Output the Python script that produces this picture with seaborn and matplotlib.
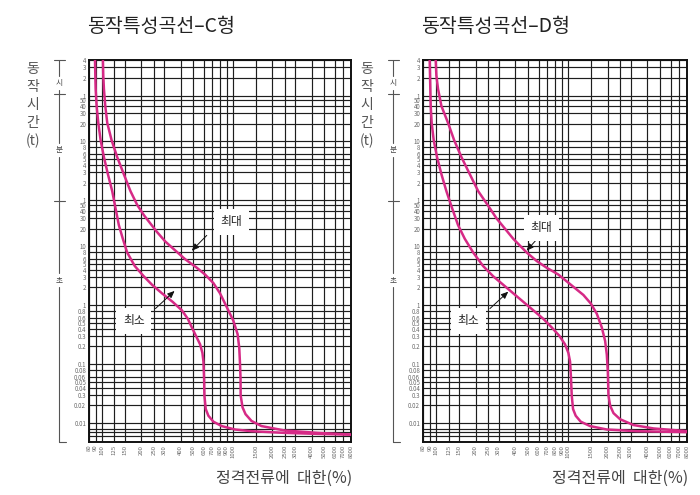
import matplotlib
matplotlib.use("Agg")
import matplotlib.pyplot as plt
import seaborn as sns
import pandas as pd
from matplotlib.lines import Line2D

# ---------------- data ----------------
x_ticks = [80, 90, 100, 125, 150, 200, 250, 300, 400, 500, 600, 700, 800, 900,
           1000, 1500, 2000, 2500, 3000, 4000, 5000, 6000, 7000, 8000]
x_labels = [str(v) for v in x_ticks]

# operating time axis in seconds (hours / minutes / seconds)
y_ticks = [14400, 10800, 7200, 3600,
           3000, 2400, 1800, 1200, 600, 480, 360, 300, 240, 180, 120, 60,
           50, 40, 30, 20, 10, 8, 6, 5, 4, 3, 2, 1,
           0.8, 0.6, 0.5, 0.4, 0.3, 0.2, 0.1, 0.08, 0.06, 0.05, 0.04, 0.03, 0.02, 0.01,
           0.008, 0.007, 0.006]
y_labels = ["4", "3", "2", "1",
            "50", "40", "30", "20", "10", "8", "6", "5", "4", "3", "2", "1",
            "50", "40", "30", "20", "10", "8", "6", "5", "4", "3", "2", "1",
            "0.8", "0.6", "0.5", "0.4", "0.3", "0.2", "0.1", "0.08", "0.06", "0.05", "0.04", "0.3", "0.02", "0.01",
            "", "", ""]

c_min_x = [88.9, 89.4, 89.9, 91.5, 94.2, 98.1, 104, 111.5, 120.3, 127.5, 135.2, 145, 156.4, 178.9,
           209.4, 242.2, 288.4, 347.5, 409.2, 454.5, 487.4, 531.9, 563.8, 587.3, 597.7, 604.7,
           608.3, 622.6, 652.4, 712, 823.5, 1040, 1392, 2493, 4466, 8000]
c_min_y = [14400, 7910, 4647, 2391, 1230, 633, 325, 167.4, 86.1, 44.3, 22.8, 13.4, 7.87, 4.62,
           3.10, 2.225, 1.595, 1.144, 0.821, 0.5886, 0.422, 0.2834, 0.2172, 0.1558, 0.1117, 0.0575,
           0.0296, 0.01738, 0.01338, 0.01062, 0.00894, 0.00782, 0.00732, 0.00685, 0.00658, 0.00641]

c_max_x = [102.2, 102.8, 104, 106.5, 110.3, 118.9, 131.3, 147.5, 165.8, 186.3, 209.4, 235.2, 264.3,
           305.8, 353.8, 433.8, 531.9, 615.4, 712, 800, 898.8, 1010, 1090, 1122, 1135, 1148, 1150,
           1189, 1253, 1392, 1658, 2493, 4466, 8000]
c_max_y = [14400, 7910, 4647, 2391, 1230, 633, 325, 167, 86.1, 50.6, 33.96, 24.36, 17.47,
           12.04, 8.99, 6.03, 4.325, 3.316, 2.378, 1.595, 0.938, 0.551, 0.3237, 0.1902, 0.1117, 0.0575, 0.0296,
           0.01857, 0.01423, 0.01091, 0.00894, 0.00752, 0.00685, 0.00641]

d_min_x = [89.9, 90.4, 90.9, 91.5, 93.1, 96.4, 102.2, 110.3, 120.3, 132.9, 147.5, 165.8, 191.8, 228.4,
           272.1, 324.1, 386.0, 459.8, 547.6, 652.4, 754.7, 863.0, 952.8, 1010, 1040, 1058, 1071,
           1096, 1148, 1253, 1475, 1975, 3337, 8000]
d_min_y = [14400, 7910, 4647, 2391, 1230, 633, 325, 167, 86.1, 44.3, 22.8, 13.4, 7.87, 4.62,
           3.10, 2.225, 1.595, 1.144, 0.821, 0.5886, 0.422, 0.303, 0.2172, 0.1558, 0.1117, 0.0575, 0.0296,
           0.01738, 0.01338, 0.01062, 0.00894, 0.00782, 0.00732, 0.00705]

d_max_x = [99.8, 101, 104, 110.3, 123.9, 137.6, 156.4, 180.9, 209.4, 246.5, 288.5, 333.7, 386, 487.4,
           580.4, 691.5, 847.9, 981, 1135, 1313, 1493, 1658, 1809, 1918, 1975, 2010, 2033, 2093,
           2219, 2493, 3148, 4466, 8000]
d_max_y = [14400, 7910, 4647, 2391, 1230, 633, 325, 167, 86.1, 50.6, 29.7, 19.95, 13.4, 7.87,
           5.643, 4.325, 3.316, 2.542, 1.948, 1.493, 1.071, 0.7188, 0.422, 0.248, 0.1458, 0.075, 0.0296, 0.01985,
           0.01482, 0.01166, 0.0093, 0.00815, 0.00732]

titles = ["동작특성곡선–C형", "동작특성곡선–D형"]
y_title_chars = ["동", "작", "시", "간", "(t)"]
x_title = "정격전류에  대한(%)"

# label / arrow anchors (data coords): (label x, label y, arrow start x, y, arrow end x, y)
c_max_note = (981, 26.0, 634, 15.3, 487, 8.4)
c_min_note = (176, 0.551, 257, 0.877, 360, 1.75)
d_max_note = (634, 20.5, 587, 13.4, 487, 8.4)
d_min_note = (176, 0.551, 257, 0.877, 354, 1.70)

# ---------------- style ----------------
sns.set_theme(style="white")
plt.rcParams["font.family"] = ["Noto Sans CJK KR", "DejaVu Sans"]

W, H = 700, 495
fig = plt.figure(figsize=(W / 100, H / 100), dpi=100)

def fxp(x):
    return x / W

def fyp(y):
    return 1 - y / H

CURVE = "#d62a86"
GRID = "#1e1e1e"
LABEL_GRAY = "#6a6a6a"

panels = [
    dict(left=89, right=351, title=titles[0], mn=(c_min_x, c_min_y), mx=(c_max_x, c_max_y),
         notes=(c_max_note, c_min_note)),
    dict(left=423, right=687, title=titles[1], mn=(d_min_x, d_min_y), mx=(d_max_x, d_max_y),
         notes=(d_max_note, d_min_note)),
]

top_px, bot_px = 60, 442

for p in panels:
    ax = fig.add_axes([fxp(p["left"]), fyp(bot_px), (p["right"] - p["left"]) / W, (bot_px - top_px) / H])
    ax.set_xscale("log")
    ax.set_yscale("log")
    ax.set_xlim(80, 8000)
    ax.set_ylim(0.0048, 14400)
    ax.set_xticks(x_ticks)
    ax.set_xticklabels(x_labels, rotation=90, fontsize=4.3, color=LABEL_GRAY)
    ax.set_yticks(y_ticks)
    ax.set_yticklabels(y_labels, fontsize=4.4, color=LABEL_GRAY)
    ax.minorticks_off()
    ax.tick_params(axis="both", length=0, pad=2)
    ax.grid(True, which="major", color=GRID, lw=0.85)
    for s in ax.spines.values():
        s.set_color("#111")
        s.set_linewidth(1.4)

    for xs, ys in (p["mn"], p["mx"]):
        df = pd.DataFrame({"x": xs, "y": ys})
        sns.lineplot(data=df, x="x", y="y", ax=ax, color=CURVE, lw=1.8, sort=False,
                     estimator=None, zorder=5)
    ax.set_xlabel("")
    ax.set_ylabel("")
    ax.set_xlim(80, 8000)
    ax.set_ylim(0.0048, 14400)

    for note, txt in zip(p["notes"], ["최대", "최소"]):
        lx, ly, sx, sy, ex, ey = note
        ax.annotate("", xy=(ex, ey), xytext=(sx, sy),
                    arrowprops=dict(arrowstyle="-|>,head_length=0.35,head_width=0.15",
                                    color="#111", lw=0.7, shrinkA=0, shrinkB=0), zorder=7)
        ax.text(lx, ly, txt, fontsize=8.5, color="#222", ha="center", va="center", zorder=8,
                bbox=dict(boxstyle="square,pad=0.55", fc="white", ec="none"))

    # title
    fig.text(fxp(p["left"] - 2), fyp(26), p["title"], fontsize=14, color="#222",
             ha="left", va="center")
    # x axis title
    fig.text(fxp(p["right"] + 1), fyp(478), x_title, fontsize=11.5, color="#444",
             ha="right", va="center")

    # vertical y-axis title
    cx = p["left"] - 56
    for ch, yy in zip(y_title_chars, [69, 87, 105, 123, 141]):
        fig.text(fxp(cx), fyp(yy), ch, fontsize=10, color="#555", ha="center", va="center")

    # hour / minute / second bracket
    bx = p["left"] - 30
    segs = [(60, 76), (90, 143), (157, 273), (287, bot_px)]
    for a, b in segs:
        fig.add_artist(Line2D([fxp(bx), fxp(bx)], [fyp(a), fyp(b)], color="#555", lw=0.8))
    for ty in (60, 94, 201):
        fig.add_artist(Line2D([fxp(bx - 5), fxp(bx + 6)], [fyp(ty), fyp(ty)], color="#555", lw=0.8))
    fig.add_artist(Line2D([fxp(bx), fxp(bx + 7)], [fyp(bot_px), fyp(bot_px)], color="#555", lw=0.8))
    for ch, yy in zip(["시", "분", "초"], [83, 150, 280]):
        fig.text(fxp(bx), fyp(yy), ch, fontsize=5.5, color="#444", ha="center", va="center")

fig.savefig("out.png", dpi=100)
